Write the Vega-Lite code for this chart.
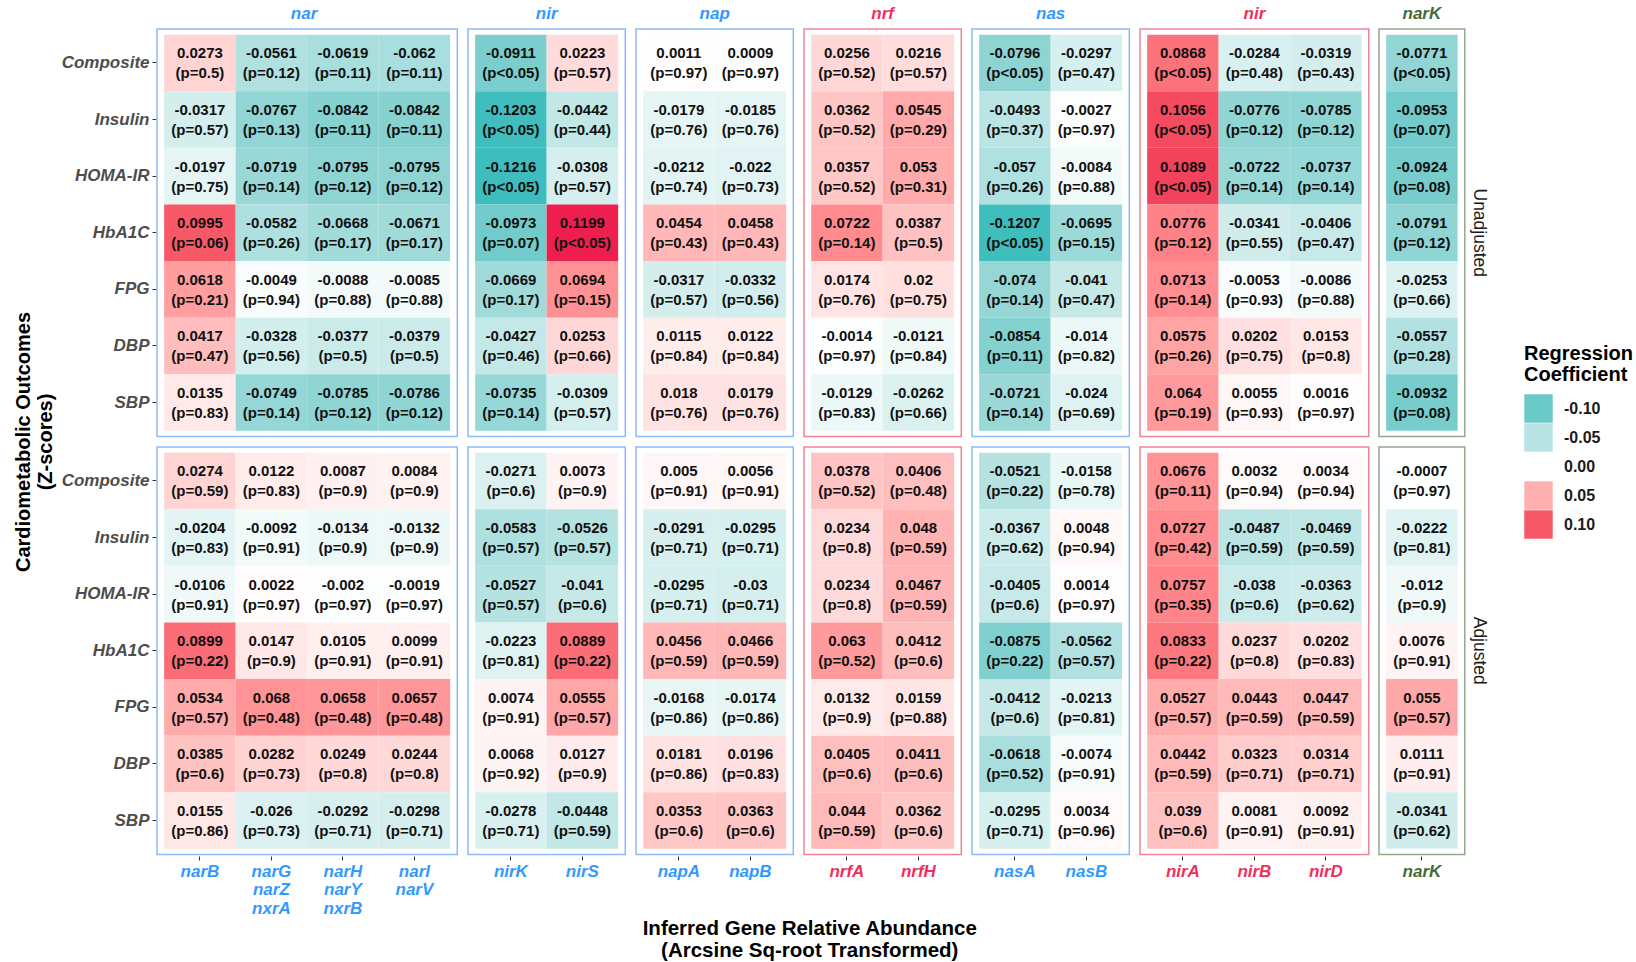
{
"$schema": "https://vega.github.io/schema/vega-lite/v6.json",
"padding": {"left": 13, "top": 5, "right": 0, "bottom": 5},
"config": {"font": "Liberation Sans", "view": {"stroke": null}},
"data": {"values": [
{"k":"nar","g":"narB","a":"Unadjusted","o":"Composite","c":0.0273,"p":"(p=0.5)"},
{"k":"nar","g":"narB","a":"Unadjusted","o":"Insulin","c":-0.0317,"p":"(p=0.57)"},
{"k":"nar","g":"narB","a":"Unadjusted","o":"HOMA-IR","c":-0.0197,"p":"(p=0.75)"},
{"k":"nar","g":"narB","a":"Unadjusted","o":"HbA1C","c":0.0995,"p":"(p=0.06)"},
{"k":"nar","g":"narB","a":"Unadjusted","o":"FPG","c":0.0618,"p":"(p=0.21)"},
{"k":"nar","g":"narB","a":"Unadjusted","o":"DBP","c":0.0417,"p":"(p=0.47)"},
{"k":"nar","g":"narB","a":"Unadjusted","o":"SBP","c":0.0135,"p":"(p=0.83)"},
{"k":"nar","g":"narG narZ nxrA","a":"Unadjusted","o":"Composite","c":-0.0561,"p":"(p=0.12)"},
{"k":"nar","g":"narG narZ nxrA","a":"Unadjusted","o":"Insulin","c":-0.0767,"p":"(p=0.13)"},
{"k":"nar","g":"narG narZ nxrA","a":"Unadjusted","o":"HOMA-IR","c":-0.0719,"p":"(p=0.14)"},
{"k":"nar","g":"narG narZ nxrA","a":"Unadjusted","o":"HbA1C","c":-0.0582,"p":"(p=0.26)"},
{"k":"nar","g":"narG narZ nxrA","a":"Unadjusted","o":"FPG","c":-0.0049,"p":"(p=0.94)"},
{"k":"nar","g":"narG narZ nxrA","a":"Unadjusted","o":"DBP","c":-0.0328,"p":"(p=0.56)"},
{"k":"nar","g":"narG narZ nxrA","a":"Unadjusted","o":"SBP","c":-0.0749,"p":"(p=0.14)"},
{"k":"nar","g":"narH narY nxrB","a":"Unadjusted","o":"Composite","c":-0.0619,"p":"(p=0.11)"},
{"k":"nar","g":"narH narY nxrB","a":"Unadjusted","o":"Insulin","c":-0.0842,"p":"(p=0.11)"},
{"k":"nar","g":"narH narY nxrB","a":"Unadjusted","o":"HOMA-IR","c":-0.0795,"p":"(p=0.12)"},
{"k":"nar","g":"narH narY nxrB","a":"Unadjusted","o":"HbA1C","c":-0.0668,"p":"(p=0.17)"},
{"k":"nar","g":"narH narY nxrB","a":"Unadjusted","o":"FPG","c":-0.0088,"p":"(p=0.88)"},
{"k":"nar","g":"narH narY nxrB","a":"Unadjusted","o":"DBP","c":-0.0377,"p":"(p=0.5)"},
{"k":"nar","g":"narH narY nxrB","a":"Unadjusted","o":"SBP","c":-0.0785,"p":"(p=0.12)"},
{"k":"nar","g":"narI narV","a":"Unadjusted","o":"Composite","c":-0.062,"p":"(p=0.11)"},
{"k":"nar","g":"narI narV","a":"Unadjusted","o":"Insulin","c":-0.0842,"p":"(p=0.11)"},
{"k":"nar","g":"narI narV","a":"Unadjusted","o":"HOMA-IR","c":-0.0795,"p":"(p=0.12)"},
{"k":"nar","g":"narI narV","a":"Unadjusted","o":"HbA1C","c":-0.0671,"p":"(p=0.17)"},
{"k":"nar","g":"narI narV","a":"Unadjusted","o":"FPG","c":-0.0085,"p":"(p=0.88)"},
{"k":"nar","g":"narI narV","a":"Unadjusted","o":"DBP","c":-0.0379,"p":"(p=0.5)"},
{"k":"nar","g":"narI narV","a":"Unadjusted","o":"SBP","c":-0.0786,"p":"(p=0.12)"},
{"k":"nirB","g":"nirK","a":"Unadjusted","o":"Composite","c":-0.0911,"p":"(p<0.05)"},
{"k":"nirB","g":"nirK","a":"Unadjusted","o":"Insulin","c":-0.1203,"p":"(p<0.05)"},
{"k":"nirB","g":"nirK","a":"Unadjusted","o":"HOMA-IR","c":-0.1216,"p":"(p<0.05)"},
{"k":"nirB","g":"nirK","a":"Unadjusted","o":"HbA1C","c":-0.0973,"p":"(p=0.07)"},
{"k":"nirB","g":"nirK","a":"Unadjusted","o":"FPG","c":-0.0669,"p":"(p=0.17)"},
{"k":"nirB","g":"nirK","a":"Unadjusted","o":"DBP","c":-0.0427,"p":"(p=0.46)"},
{"k":"nirB","g":"nirK","a":"Unadjusted","o":"SBP","c":-0.0735,"p":"(p=0.14)"},
{"k":"nirB","g":"nirS","a":"Unadjusted","o":"Composite","c":0.0223,"p":"(p=0.57)"},
{"k":"nirB","g":"nirS","a":"Unadjusted","o":"Insulin","c":-0.0442,"p":"(p=0.44)"},
{"k":"nirB","g":"nirS","a":"Unadjusted","o":"HOMA-IR","c":-0.0308,"p":"(p=0.57)"},
{"k":"nirB","g":"nirS","a":"Unadjusted","o":"HbA1C","c":0.1199,"p":"(p<0.05)"},
{"k":"nirB","g":"nirS","a":"Unadjusted","o":"FPG","c":0.0694,"p":"(p=0.15)"},
{"k":"nirB","g":"nirS","a":"Unadjusted","o":"DBP","c":0.0253,"p":"(p=0.66)"},
{"k":"nirB","g":"nirS","a":"Unadjusted","o":"SBP","c":-0.0309,"p":"(p=0.57)"},
{"k":"nap","g":"napA","a":"Unadjusted","o":"Composite","c":0.0011,"p":"(p=0.97)"},
{"k":"nap","g":"napA","a":"Unadjusted","o":"Insulin","c":-0.0179,"p":"(p=0.76)"},
{"k":"nap","g":"napA","a":"Unadjusted","o":"HOMA-IR","c":-0.0212,"p":"(p=0.74)"},
{"k":"nap","g":"napA","a":"Unadjusted","o":"HbA1C","c":0.0454,"p":"(p=0.43)"},
{"k":"nap","g":"napA","a":"Unadjusted","o":"FPG","c":-0.0317,"p":"(p=0.57)"},
{"k":"nap","g":"napA","a":"Unadjusted","o":"DBP","c":0.0115,"p":"(p=0.84)"},
{"k":"nap","g":"napA","a":"Unadjusted","o":"SBP","c":0.018,"p":"(p=0.76)"},
{"k":"nap","g":"napB","a":"Unadjusted","o":"Composite","c":0.0009,"p":"(p=0.97)"},
{"k":"nap","g":"napB","a":"Unadjusted","o":"Insulin","c":-0.0185,"p":"(p=0.76)"},
{"k":"nap","g":"napB","a":"Unadjusted","o":"HOMA-IR","c":-0.022,"p":"(p=0.73)"},
{"k":"nap","g":"napB","a":"Unadjusted","o":"HbA1C","c":0.0458,"p":"(p=0.43)"},
{"k":"nap","g":"napB","a":"Unadjusted","o":"FPG","c":-0.0332,"p":"(p=0.56)"},
{"k":"nap","g":"napB","a":"Unadjusted","o":"DBP","c":0.0122,"p":"(p=0.84)"},
{"k":"nap","g":"napB","a":"Unadjusted","o":"SBP","c":0.0179,"p":"(p=0.76)"},
{"k":"nrf","g":"nrfA","a":"Unadjusted","o":"Composite","c":0.0256,"p":"(p=0.52)"},
{"k":"nrf","g":"nrfA","a":"Unadjusted","o":"Insulin","c":0.0362,"p":"(p=0.52)"},
{"k":"nrf","g":"nrfA","a":"Unadjusted","o":"HOMA-IR","c":0.0357,"p":"(p=0.52)"},
{"k":"nrf","g":"nrfA","a":"Unadjusted","o":"HbA1C","c":0.0722,"p":"(p=0.14)"},
{"k":"nrf","g":"nrfA","a":"Unadjusted","o":"FPG","c":0.0174,"p":"(p=0.76)"},
{"k":"nrf","g":"nrfA","a":"Unadjusted","o":"DBP","c":-0.0014,"p":"(p=0.97)"},
{"k":"nrf","g":"nrfA","a":"Unadjusted","o":"SBP","c":-0.0129,"p":"(p=0.83)"},
{"k":"nrf","g":"nrfH","a":"Unadjusted","o":"Composite","c":0.0216,"p":"(p=0.57)"},
{"k":"nrf","g":"nrfH","a":"Unadjusted","o":"Insulin","c":0.0545,"p":"(p=0.29)"},
{"k":"nrf","g":"nrfH","a":"Unadjusted","o":"HOMA-IR","c":0.053,"p":"(p=0.31)"},
{"k":"nrf","g":"nrfH","a":"Unadjusted","o":"HbA1C","c":0.0387,"p":"(p=0.5)"},
{"k":"nrf","g":"nrfH","a":"Unadjusted","o":"FPG","c":0.02,"p":"(p=0.75)"},
{"k":"nrf","g":"nrfH","a":"Unadjusted","o":"DBP","c":-0.0121,"p":"(p=0.84)"},
{"k":"nrf","g":"nrfH","a":"Unadjusted","o":"SBP","c":-0.0262,"p":"(p=0.66)"},
{"k":"nas","g":"nasA","a":"Unadjusted","o":"Composite","c":-0.0796,"p":"(p<0.05)"},
{"k":"nas","g":"nasA","a":"Unadjusted","o":"Insulin","c":-0.0493,"p":"(p=0.37)"},
{"k":"nas","g":"nasA","a":"Unadjusted","o":"HOMA-IR","c":-0.057,"p":"(p=0.26)"},
{"k":"nas","g":"nasA","a":"Unadjusted","o":"HbA1C","c":-0.1207,"p":"(p<0.05)"},
{"k":"nas","g":"nasA","a":"Unadjusted","o":"FPG","c":-0.074,"p":"(p=0.14)"},
{"k":"nas","g":"nasA","a":"Unadjusted","o":"DBP","c":-0.0854,"p":"(p=0.11)"},
{"k":"nas","g":"nasA","a":"Unadjusted","o":"SBP","c":-0.0721,"p":"(p=0.14)"},
{"k":"nas","g":"nasB","a":"Unadjusted","o":"Composite","c":-0.0297,"p":"(p=0.47)"},
{"k":"nas","g":"nasB","a":"Unadjusted","o":"Insulin","c":-0.0027,"p":"(p=0.97)"},
{"k":"nas","g":"nasB","a":"Unadjusted","o":"HOMA-IR","c":-0.0084,"p":"(p=0.88)"},
{"k":"nas","g":"nasB","a":"Unadjusted","o":"HbA1C","c":-0.0695,"p":"(p=0.15)"},
{"k":"nas","g":"nasB","a":"Unadjusted","o":"FPG","c":-0.041,"p":"(p=0.47)"},
{"k":"nas","g":"nasB","a":"Unadjusted","o":"DBP","c":-0.014,"p":"(p=0.82)"},
{"k":"nas","g":"nasB","a":"Unadjusted","o":"SBP","c":-0.024,"p":"(p=0.69)"},
{"k":"nirR","g":"nirA","a":"Unadjusted","o":"Composite","c":0.0868,"p":"(p<0.05)"},
{"k":"nirR","g":"nirA","a":"Unadjusted","o":"Insulin","c":0.1056,"p":"(p<0.05)"},
{"k":"nirR","g":"nirA","a":"Unadjusted","o":"HOMA-IR","c":0.1089,"p":"(p<0.05)"},
{"k":"nirR","g":"nirA","a":"Unadjusted","o":"HbA1C","c":0.0776,"p":"(p=0.12)"},
{"k":"nirR","g":"nirA","a":"Unadjusted","o":"FPG","c":0.0713,"p":"(p=0.14)"},
{"k":"nirR","g":"nirA","a":"Unadjusted","o":"DBP","c":0.0575,"p":"(p=0.26)"},
{"k":"nirR","g":"nirA","a":"Unadjusted","o":"SBP","c":0.064,"p":"(p=0.19)"},
{"k":"nirR","g":"nirB","a":"Unadjusted","o":"Composite","c":-0.0284,"p":"(p=0.48)"},
{"k":"nirR","g":"nirB","a":"Unadjusted","o":"Insulin","c":-0.0776,"p":"(p=0.12)"},
{"k":"nirR","g":"nirB","a":"Unadjusted","o":"HOMA-IR","c":-0.0722,"p":"(p=0.14)"},
{"k":"nirR","g":"nirB","a":"Unadjusted","o":"HbA1C","c":-0.0341,"p":"(p=0.55)"},
{"k":"nirR","g":"nirB","a":"Unadjusted","o":"FPG","c":-0.0053,"p":"(p=0.93)"},
{"k":"nirR","g":"nirB","a":"Unadjusted","o":"DBP","c":0.0202,"p":"(p=0.75)"},
{"k":"nirR","g":"nirB","a":"Unadjusted","o":"SBP","c":0.0055,"p":"(p=0.93)"},
{"k":"nirR","g":"nirD","a":"Unadjusted","o":"Composite","c":-0.0319,"p":"(p=0.43)"},
{"k":"nirR","g":"nirD","a":"Unadjusted","o":"Insulin","c":-0.0785,"p":"(p=0.12)"},
{"k":"nirR","g":"nirD","a":"Unadjusted","o":"HOMA-IR","c":-0.0737,"p":"(p=0.14)"},
{"k":"nirR","g":"nirD","a":"Unadjusted","o":"HbA1C","c":-0.0406,"p":"(p=0.47)"},
{"k":"nirR","g":"nirD","a":"Unadjusted","o":"FPG","c":-0.0086,"p":"(p=0.88)"},
{"k":"nirR","g":"nirD","a":"Unadjusted","o":"DBP","c":0.0153,"p":"(p=0.8)"},
{"k":"nirR","g":"nirD","a":"Unadjusted","o":"SBP","c":0.0016,"p":"(p=0.97)"},
{"k":"narK","g":"narK","a":"Unadjusted","o":"Composite","c":-0.0771,"p":"(p<0.05)"},
{"k":"narK","g":"narK","a":"Unadjusted","o":"Insulin","c":-0.0953,"p":"(p=0.07)"},
{"k":"narK","g":"narK","a":"Unadjusted","o":"HOMA-IR","c":-0.0924,"p":"(p=0.08)"},
{"k":"narK","g":"narK","a":"Unadjusted","o":"HbA1C","c":-0.0791,"p":"(p=0.12)"},
{"k":"narK","g":"narK","a":"Unadjusted","o":"FPG","c":-0.0253,"p":"(p=0.66)"},
{"k":"narK","g":"narK","a":"Unadjusted","o":"DBP","c":-0.0557,"p":"(p=0.28)"},
{"k":"narK","g":"narK","a":"Unadjusted","o":"SBP","c":-0.0932,"p":"(p=0.08)"},
{"k":"nar","g":"narB","a":"Adjusted","o":"Composite","c":0.0274,"p":"(p=0.59)"},
{"k":"nar","g":"narB","a":"Adjusted","o":"Insulin","c":-0.0204,"p":"(p=0.83)"},
{"k":"nar","g":"narB","a":"Adjusted","o":"HOMA-IR","c":-0.0106,"p":"(p=0.91)"},
{"k":"nar","g":"narB","a":"Adjusted","o":"HbA1C","c":0.0899,"p":"(p=0.22)"},
{"k":"nar","g":"narB","a":"Adjusted","o":"FPG","c":0.0534,"p":"(p=0.57)"},
{"k":"nar","g":"narB","a":"Adjusted","o":"DBP","c":0.0385,"p":"(p=0.6)"},
{"k":"nar","g":"narB","a":"Adjusted","o":"SBP","c":0.0155,"p":"(p=0.86)"},
{"k":"nar","g":"narG narZ nxrA","a":"Adjusted","o":"Composite","c":0.0122,"p":"(p=0.83)"},
{"k":"nar","g":"narG narZ nxrA","a":"Adjusted","o":"Insulin","c":-0.0092,"p":"(p=0.91)"},
{"k":"nar","g":"narG narZ nxrA","a":"Adjusted","o":"HOMA-IR","c":0.0022,"p":"(p=0.97)"},
{"k":"nar","g":"narG narZ nxrA","a":"Adjusted","o":"HbA1C","c":0.0147,"p":"(p=0.9)"},
{"k":"nar","g":"narG narZ nxrA","a":"Adjusted","o":"FPG","c":0.068,"p":"(p=0.48)"},
{"k":"nar","g":"narG narZ nxrA","a":"Adjusted","o":"DBP","c":0.0282,"p":"(p=0.73)"},
{"k":"nar","g":"narG narZ nxrA","a":"Adjusted","o":"SBP","c":-0.026,"p":"(p=0.73)"},
{"k":"nar","g":"narH narY nxrB","a":"Adjusted","o":"Composite","c":0.0087,"p":"(p=0.9)"},
{"k":"nar","g":"narH narY nxrB","a":"Adjusted","o":"Insulin","c":-0.0134,"p":"(p=0.9)"},
{"k":"nar","g":"narH narY nxrB","a":"Adjusted","o":"HOMA-IR","c":-0.002,"p":"(p=0.97)"},
{"k":"nar","g":"narH narY nxrB","a":"Adjusted","o":"HbA1C","c":0.0105,"p":"(p=0.91)"},
{"k":"nar","g":"narH narY nxrB","a":"Adjusted","o":"FPG","c":0.0658,"p":"(p=0.48)"},
{"k":"nar","g":"narH narY nxrB","a":"Adjusted","o":"DBP","c":0.0249,"p":"(p=0.8)"},
{"k":"nar","g":"narH narY nxrB","a":"Adjusted","o":"SBP","c":-0.0292,"p":"(p=0.71)"},
{"k":"nar","g":"narI narV","a":"Adjusted","o":"Composite","c":0.0084,"p":"(p=0.9)"},
{"k":"nar","g":"narI narV","a":"Adjusted","o":"Insulin","c":-0.0132,"p":"(p=0.9)"},
{"k":"nar","g":"narI narV","a":"Adjusted","o":"HOMA-IR","c":-0.0019,"p":"(p=0.97)"},
{"k":"nar","g":"narI narV","a":"Adjusted","o":"HbA1C","c":0.0099,"p":"(p=0.91)"},
{"k":"nar","g":"narI narV","a":"Adjusted","o":"FPG","c":0.0657,"p":"(p=0.48)"},
{"k":"nar","g":"narI narV","a":"Adjusted","o":"DBP","c":0.0244,"p":"(p=0.8)"},
{"k":"nar","g":"narI narV","a":"Adjusted","o":"SBP","c":-0.0298,"p":"(p=0.71)"},
{"k":"nirB","g":"nirK","a":"Adjusted","o":"Composite","c":-0.0271,"p":"(p=0.6)"},
{"k":"nirB","g":"nirK","a":"Adjusted","o":"Insulin","c":-0.0583,"p":"(p=0.57)"},
{"k":"nirB","g":"nirK","a":"Adjusted","o":"HOMA-IR","c":-0.0527,"p":"(p=0.57)"},
{"k":"nirB","g":"nirK","a":"Adjusted","o":"HbA1C","c":-0.0223,"p":"(p=0.81)"},
{"k":"nirB","g":"nirK","a":"Adjusted","o":"FPG","c":0.0074,"p":"(p=0.91)"},
{"k":"nirB","g":"nirK","a":"Adjusted","o":"DBP","c":0.0068,"p":"(p=0.92)"},
{"k":"nirB","g":"nirK","a":"Adjusted","o":"SBP","c":-0.0278,"p":"(p=0.71)"},
{"k":"nirB","g":"nirS","a":"Adjusted","o":"Composite","c":0.0073,"p":"(p=0.9)"},
{"k":"nirB","g":"nirS","a":"Adjusted","o":"Insulin","c":-0.0526,"p":"(p=0.57)"},
{"k":"nirB","g":"nirS","a":"Adjusted","o":"HOMA-IR","c":-0.041,"p":"(p=0.6)"},
{"k":"nirB","g":"nirS","a":"Adjusted","o":"HbA1C","c":0.0889,"p":"(p=0.22)"},
{"k":"nirB","g":"nirS","a":"Adjusted","o":"FPG","c":0.0555,"p":"(p=0.57)"},
{"k":"nirB","g":"nirS","a":"Adjusted","o":"DBP","c":0.0127,"p":"(p=0.9)"},
{"k":"nirB","g":"nirS","a":"Adjusted","o":"SBP","c":-0.0448,"p":"(p=0.59)"},
{"k":"nap","g":"napA","a":"Adjusted","o":"Composite","c":0.005,"p":"(p=0.91)"},
{"k":"nap","g":"napA","a":"Adjusted","o":"Insulin","c":-0.0291,"p":"(p=0.71)"},
{"k":"nap","g":"napA","a":"Adjusted","o":"HOMA-IR","c":-0.0295,"p":"(p=0.71)"},
{"k":"nap","g":"napA","a":"Adjusted","o":"HbA1C","c":0.0456,"p":"(p=0.59)"},
{"k":"nap","g":"napA","a":"Adjusted","o":"FPG","c":-0.0168,"p":"(p=0.86)"},
{"k":"nap","g":"napA","a":"Adjusted","o":"DBP","c":0.0181,"p":"(p=0.86)"},
{"k":"nap","g":"napA","a":"Adjusted","o":"SBP","c":0.0353,"p":"(p=0.6)"},
{"k":"nap","g":"napB","a":"Adjusted","o":"Composite","c":0.0056,"p":"(p=0.91)"},
{"k":"nap","g":"napB","a":"Adjusted","o":"Insulin","c":-0.0295,"p":"(p=0.71)"},
{"k":"nap","g":"napB","a":"Adjusted","o":"HOMA-IR","c":-0.03,"p":"(p=0.71)"},
{"k":"nap","g":"napB","a":"Adjusted","o":"HbA1C","c":0.0466,"p":"(p=0.59)"},
{"k":"nap","g":"napB","a":"Adjusted","o":"FPG","c":-0.0174,"p":"(p=0.86)"},
{"k":"nap","g":"napB","a":"Adjusted","o":"DBP","c":0.0196,"p":"(p=0.83)"},
{"k":"nap","g":"napB","a":"Adjusted","o":"SBP","c":0.0363,"p":"(p=0.6)"},
{"k":"nrf","g":"nrfA","a":"Adjusted","o":"Composite","c":0.0378,"p":"(p=0.52)"},
{"k":"nrf","g":"nrfA","a":"Adjusted","o":"Insulin","c":0.0234,"p":"(p=0.8)"},
{"k":"nrf","g":"nrfA","a":"Adjusted","o":"HOMA-IR","c":0.0234,"p":"(p=0.8)"},
{"k":"nrf","g":"nrfA","a":"Adjusted","o":"HbA1C","c":0.063,"p":"(p=0.52)"},
{"k":"nrf","g":"nrfA","a":"Adjusted","o":"FPG","c":0.0132,"p":"(p=0.9)"},
{"k":"nrf","g":"nrfA","a":"Adjusted","o":"DBP","c":0.0405,"p":"(p=0.6)"},
{"k":"nrf","g":"nrfA","a":"Adjusted","o":"SBP","c":0.044,"p":"(p=0.59)"},
{"k":"nrf","g":"nrfH","a":"Adjusted","o":"Composite","c":0.0406,"p":"(p=0.48)"},
{"k":"nrf","g":"nrfH","a":"Adjusted","o":"Insulin","c":0.048,"p":"(p=0.59)"},
{"k":"nrf","g":"nrfH","a":"Adjusted","o":"HOMA-IR","c":0.0467,"p":"(p=0.59)"},
{"k":"nrf","g":"nrfH","a":"Adjusted","o":"HbA1C","c":0.0412,"p":"(p=0.6)"},
{"k":"nrf","g":"nrfH","a":"Adjusted","o":"FPG","c":0.0159,"p":"(p=0.88)"},
{"k":"nrf","g":"nrfH","a":"Adjusted","o":"DBP","c":0.0411,"p":"(p=0.6)"},
{"k":"nrf","g":"nrfH","a":"Adjusted","o":"SBP","c":0.0362,"p":"(p=0.6)"},
{"k":"nas","g":"nasA","a":"Adjusted","o":"Composite","c":-0.0521,"p":"(p=0.22)"},
{"k":"nas","g":"nasA","a":"Adjusted","o":"Insulin","c":-0.0367,"p":"(p=0.62)"},
{"k":"nas","g":"nasA","a":"Adjusted","o":"HOMA-IR","c":-0.0405,"p":"(p=0.6)"},
{"k":"nas","g":"nasA","a":"Adjusted","o":"HbA1C","c":-0.0875,"p":"(p=0.22)"},
{"k":"nas","g":"nasA","a":"Adjusted","o":"FPG","c":-0.0412,"p":"(p=0.6)"},
{"k":"nas","g":"nasA","a":"Adjusted","o":"DBP","c":-0.0618,"p":"(p=0.52)"},
{"k":"nas","g":"nasA","a":"Adjusted","o":"SBP","c":-0.0295,"p":"(p=0.71)"},
{"k":"nas","g":"nasB","a":"Adjusted","o":"Composite","c":-0.0158,"p":"(p=0.78)"},
{"k":"nas","g":"nasB","a":"Adjusted","o":"Insulin","c":0.0048,"p":"(p=0.94)"},
{"k":"nas","g":"nasB","a":"Adjusted","o":"HOMA-IR","c":0.0014,"p":"(p=0.97)"},
{"k":"nas","g":"nasB","a":"Adjusted","o":"HbA1C","c":-0.0562,"p":"(p=0.57)"},
{"k":"nas","g":"nasB","a":"Adjusted","o":"FPG","c":-0.0213,"p":"(p=0.81)"},
{"k":"nas","g":"nasB","a":"Adjusted","o":"DBP","c":-0.0074,"p":"(p=0.91)"},
{"k":"nas","g":"nasB","a":"Adjusted","o":"SBP","c":0.0034,"p":"(p=0.96)"},
{"k":"nirR","g":"nirA","a":"Adjusted","o":"Composite","c":0.0676,"p":"(p=0.11)"},
{"k":"nirR","g":"nirA","a":"Adjusted","o":"Insulin","c":0.0727,"p":"(p=0.42)"},
{"k":"nirR","g":"nirA","a":"Adjusted","o":"HOMA-IR","c":0.0757,"p":"(p=0.35)"},
{"k":"nirR","g":"nirA","a":"Adjusted","o":"HbA1C","c":0.0833,"p":"(p=0.22)"},
{"k":"nirR","g":"nirA","a":"Adjusted","o":"FPG","c":0.0527,"p":"(p=0.57)"},
{"k":"nirR","g":"nirA","a":"Adjusted","o":"DBP","c":0.0442,"p":"(p=0.59)"},
{"k":"nirR","g":"nirA","a":"Adjusted","o":"SBP","c":0.039,"p":"(p=0.6)"},
{"k":"nirR","g":"nirB","a":"Adjusted","o":"Composite","c":0.0032,"p":"(p=0.94)"},
{"k":"nirR","g":"nirB","a":"Adjusted","o":"Insulin","c":-0.0487,"p":"(p=0.59)"},
{"k":"nirR","g":"nirB","a":"Adjusted","o":"HOMA-IR","c":-0.038,"p":"(p=0.6)"},
{"k":"nirR","g":"nirB","a":"Adjusted","o":"HbA1C","c":0.0237,"p":"(p=0.8)"},
{"k":"nirR","g":"nirB","a":"Adjusted","o":"FPG","c":0.0443,"p":"(p=0.59)"},
{"k":"nirR","g":"nirB","a":"Adjusted","o":"DBP","c":0.0323,"p":"(p=0.71)"},
{"k":"nirR","g":"nirB","a":"Adjusted","o":"SBP","c":0.0081,"p":"(p=0.91)"},
{"k":"nirR","g":"nirD","a":"Adjusted","o":"Composite","c":0.0034,"p":"(p=0.94)"},
{"k":"nirR","g":"nirD","a":"Adjusted","o":"Insulin","c":-0.0469,"p":"(p=0.59)"},
{"k":"nirR","g":"nirD","a":"Adjusted","o":"HOMA-IR","c":-0.0363,"p":"(p=0.62)"},
{"k":"nirR","g":"nirD","a":"Adjusted","o":"HbA1C","c":0.0202,"p":"(p=0.83)"},
{"k":"nirR","g":"nirD","a":"Adjusted","o":"FPG","c":0.0447,"p":"(p=0.59)"},
{"k":"nirR","g":"nirD","a":"Adjusted","o":"DBP","c":0.0314,"p":"(p=0.71)"},
{"k":"nirR","g":"nirD","a":"Adjusted","o":"SBP","c":0.0092,"p":"(p=0.91)"},
{"k":"narK","g":"narK","a":"Adjusted","o":"Composite","c":-0.0007,"p":"(p=0.97)"},
{"k":"narK","g":"narK","a":"Adjusted","o":"Insulin","c":-0.0222,"p":"(p=0.81)"},
{"k":"narK","g":"narK","a":"Adjusted","o":"HOMA-IR","c":-0.012,"p":"(p=0.9)"},
{"k":"narK","g":"narK","a":"Adjusted","o":"HbA1C","c":0.0076,"p":"(p=0.91)"},
{"k":"narK","g":"narK","a":"Adjusted","o":"FPG","c":0.055,"p":"(p=0.57)"},
{"k":"narK","g":"narK","a":"Adjusted","o":"DBP","c":0.0111,"p":"(p=0.91)"},
{"k":"narK","g":"narK","a":"Adjusted","o":"SBP","c":-0.0341,"p":"(p=0.62)"}
]},
"hconcat": [
{"title": {"text": ["Inferred Gene Relative Abundance", "(Arcsine Sq-root Transformed)"], "orient": "bottom", "anchor": "middle", "fontSize": 20.5, "fontWeight": "bold", "color": "#000000", "offset": 3, "lineHeight": 22, "dx": 59},
 "spacing": 8,
 "hconcat": [
{"transform": [{"filter": "datum.k == 'nar'"}],
 "title": {"text": "nar", "color": "#3399FF", "fontSize": 17, "fontStyle": "italic", "fontWeight": "bold", "offset": 5, "anchor": "middle", "dx": 68},
 "facet": {"row": {"field": "a", "type": "nominal", "sort": ["Unadjusted", "Adjusted"], "title": ["Cardiometabolic Outcomes", "(Z-scores)"], "header": {"labels": false, "titleFontSize": 20, "titleFontWeight": "bold", "titleColor": "#000000", "titleLineHeight": 22, "titlePadding": -5}}},
 "spacing": 8,
 "spec": {"width": {"step": 71.5}, "height": {"step": 56.6}, "view": {"stroke": "#8DBBF5", "strokeWidth": 1.5},
  "encoding": {
   "x": {"field": "g", "type": "nominal", "sort": null, "scale": {"paddingInner": 0, "paddingOuter": 0.1}, "axis": {"title": null, "domain": false, "tickColor": "#333333", "tickSize": 4, "labelAngle": 0, "labelFontSize": 17, "labelFontStyle": "italic", "labelFontWeight": "bold", "labelColor": "#3399FF", "labelPadding": 3, "labelLineHeight": 18.5, "labelExpr": "split(datum.label, ' ')"}},
   "y": {"field": "o", "type": "nominal", "sort": ["Composite", "Insulin", "HOMA-IR", "HbA1C", "FPG", "DBP", "SBP"], "scale": {"paddingInner": 0, "paddingOuter": 0.1}, "axis": {"title": null, "domain": false, "tickColor": "#333333", "tickSize": 4, "labelFontSize": 17, "labelFontStyle": "italic", "labelFontWeight": "bold", "labelColor": "#4D4D4D", "labelPadding": 3}}
  },
  "layer": [
   {"mark": {"type": "rect"}, "encoding": {"color": {"field": "c", "type": "quantitative", "scale": {"domain": [-0.1216, 0, 0.1199], "range": ["#3DBDBD", "#FFFFFF", "#EE1F4E"], "interpolate": "lab"}, "legend": {"type": "symbol", "values": [-0.1, -0.05, 0, 0.05, 0.1], "format": ".2f", "labelExpr": "replace(datum.label, '\u2212', '-')", "title": ["Regression", "Coefficient"], "titleFontSize": 20, "titleFontWeight": "bold", "titleColor": "#000000", "titleLineHeight": 21, "titlePadding": 9, "labelFontSize": 16, "labelFontWeight": "bold", "labelColor": "#1A1A1A", "symbolType": "square", "symbolSize": 810, "symbolStrokeWidth": 0, "symbolOpacity": 1, "rowPadding": 0, "labelOffset": 11, "orient": "none", "legendX": 1367, "legendY": 315}}}},
   {"mark": {"type": "text", "dy": -9.5, "fontSize": 15, "fontWeight": "bold", "color": "#111111"}, "encoding": {"text": {"field": "c", "type": "nominal"}}},
   {"mark": {"type": "text", "dy": 10.5, "fontSize": 15, "fontWeight": "bold", "color": "#111111"}, "encoding": {"text": {"field": "p", "type": "nominal"}}}
  ]}
},
{"transform": [{"filter": "datum.k == 'nirB'"}],
 "title": {"text": "nir", "color": "#3399FF", "fontSize": 17, "fontStyle": "italic", "fontWeight": "bold", "offset": 5, "anchor": "middle"},
 "facet": {"row": {"field": "a", "type": "nominal", "sort": ["Unadjusted", "Adjusted"], "title": null, "header": {"labels": false}}},
 "spacing": 8,
 "spec": {"width": {"step": 71.5}, "height": {"step": 56.6}, "view": {"stroke": "#8DBBF5", "strokeWidth": 1.5},
  "encoding": {
   "x": {"field": "g", "type": "nominal", "sort": null, "scale": {"paddingInner": 0, "paddingOuter": 0.1}, "axis": {"title": null, "domain": false, "tickColor": "#333333", "tickSize": 4, "labelAngle": 0, "labelFontSize": 17, "labelFontStyle": "italic", "labelFontWeight": "bold", "labelColor": "#3399FF", "labelPadding": 3}},
   "y": {"field": "o", "type": "nominal", "sort": ["Composite", "Insulin", "HOMA-IR", "HbA1C", "FPG", "DBP", "SBP"], "scale": {"paddingInner": 0, "paddingOuter": 0.1}, "axis": null}
  },
  "layer": [
   {"mark": {"type": "rect"}, "encoding": {"color": {"field": "c", "type": "quantitative", "scale": {"domain": [-0.1216, 0, 0.1199], "range": ["#3DBDBD", "#FFFFFF", "#EE1F4E"], "interpolate": "lab"}}}},
   {"mark": {"type": "text", "dy": -9.5, "fontSize": 15, "fontWeight": "bold", "color": "#111111"}, "encoding": {"text": {"field": "c", "type": "nominal"}}},
   {"mark": {"type": "text", "dy": 10.5, "fontSize": 15, "fontWeight": "bold", "color": "#111111"}, "encoding": {"text": {"field": "p", "type": "nominal"}}}
  ]}
},
{"transform": [{"filter": "datum.k == 'nap'"}],
 "title": {"text": "nap", "color": "#3399FF", "fontSize": 17, "fontStyle": "italic", "fontWeight": "bold", "offset": 5, "anchor": "middle"},
 "facet": {"row": {"field": "a", "type": "nominal", "sort": ["Unadjusted", "Adjusted"], "title": null, "header": {"labels": false}}},
 "spacing": 8,
 "spec": {"width": {"step": 71.5}, "height": {"step": 56.6}, "view": {"stroke": "#8DBBF5", "strokeWidth": 1.5},
  "encoding": {
   "x": {"field": "g", "type": "nominal", "sort": null, "scale": {"paddingInner": 0, "paddingOuter": 0.1}, "axis": {"title": null, "domain": false, "tickColor": "#333333", "tickSize": 4, "labelAngle": 0, "labelFontSize": 17, "labelFontStyle": "italic", "labelFontWeight": "bold", "labelColor": "#3399FF", "labelPadding": 3}},
   "y": {"field": "o", "type": "nominal", "sort": ["Composite", "Insulin", "HOMA-IR", "HbA1C", "FPG", "DBP", "SBP"], "scale": {"paddingInner": 0, "paddingOuter": 0.1}, "axis": null}
  },
  "layer": [
   {"mark": {"type": "rect"}, "encoding": {"color": {"field": "c", "type": "quantitative", "scale": {"domain": [-0.1216, 0, 0.1199], "range": ["#3DBDBD", "#FFFFFF", "#EE1F4E"], "interpolate": "lab"}}}},
   {"mark": {"type": "text", "dy": -9.5, "fontSize": 15, "fontWeight": "bold", "color": "#111111"}, "encoding": {"text": {"field": "c", "type": "nominal"}}},
   {"mark": {"type": "text", "dy": 10.5, "fontSize": 15, "fontWeight": "bold", "color": "#111111"}, "encoding": {"text": {"field": "p", "type": "nominal"}}}
  ]}
},
{"transform": [{"filter": "datum.k == 'nrf'"}],
 "title": {"text": "nrf", "color": "#F0305A", "fontSize": 17, "fontStyle": "italic", "fontWeight": "bold", "offset": 5, "anchor": "middle"},
 "facet": {"row": {"field": "a", "type": "nominal", "sort": ["Unadjusted", "Adjusted"], "title": null, "header": {"labels": false}}},
 "spacing": 8,
 "spec": {"width": {"step": 71.5}, "height": {"step": 56.6}, "view": {"stroke": "#EE8497", "strokeWidth": 1.5},
  "encoding": {
   "x": {"field": "g", "type": "nominal", "sort": null, "scale": {"paddingInner": 0, "paddingOuter": 0.1}, "axis": {"title": null, "domain": false, "tickColor": "#333333", "tickSize": 4, "labelAngle": 0, "labelFontSize": 17, "labelFontStyle": "italic", "labelFontWeight": "bold", "labelColor": "#F0305A", "labelPadding": 3}},
   "y": {"field": "o", "type": "nominal", "sort": ["Composite", "Insulin", "HOMA-IR", "HbA1C", "FPG", "DBP", "SBP"], "scale": {"paddingInner": 0, "paddingOuter": 0.1}, "axis": null}
  },
  "layer": [
   {"mark": {"type": "rect"}, "encoding": {"color": {"field": "c", "type": "quantitative", "scale": {"domain": [-0.1216, 0, 0.1199], "range": ["#3DBDBD", "#FFFFFF", "#EE1F4E"], "interpolate": "lab"}}}},
   {"mark": {"type": "text", "dy": -9.5, "fontSize": 15, "fontWeight": "bold", "color": "#111111"}, "encoding": {"text": {"field": "c", "type": "nominal"}}},
   {"mark": {"type": "text", "dy": 10.5, "fontSize": 15, "fontWeight": "bold", "color": "#111111"}, "encoding": {"text": {"field": "p", "type": "nominal"}}}
  ]}
},
{"transform": [{"filter": "datum.k == 'nas'"}],
 "title": {"text": "nas", "color": "#3399FF", "fontSize": 17, "fontStyle": "italic", "fontWeight": "bold", "offset": 5, "anchor": "middle"},
 "facet": {"row": {"field": "a", "type": "nominal", "sort": ["Unadjusted", "Adjusted"], "title": null, "header": {"labels": false}}},
 "spacing": 8,
 "spec": {"width": {"step": 71.5}, "height": {"step": 56.6}, "view": {"stroke": "#8DBBF5", "strokeWidth": 1.5},
  "encoding": {
   "x": {"field": "g", "type": "nominal", "sort": null, "scale": {"paddingInner": 0, "paddingOuter": 0.1}, "axis": {"title": null, "domain": false, "tickColor": "#333333", "tickSize": 4, "labelAngle": 0, "labelFontSize": 17, "labelFontStyle": "italic", "labelFontWeight": "bold", "labelColor": "#3399FF", "labelPadding": 3}},
   "y": {"field": "o", "type": "nominal", "sort": ["Composite", "Insulin", "HOMA-IR", "HbA1C", "FPG", "DBP", "SBP"], "scale": {"paddingInner": 0, "paddingOuter": 0.1}, "axis": null}
  },
  "layer": [
   {"mark": {"type": "rect"}, "encoding": {"color": {"field": "c", "type": "quantitative", "scale": {"domain": [-0.1216, 0, 0.1199], "range": ["#3DBDBD", "#FFFFFF", "#EE1F4E"], "interpolate": "lab"}}}},
   {"mark": {"type": "text", "dy": -9.5, "fontSize": 15, "fontWeight": "bold", "color": "#111111"}, "encoding": {"text": {"field": "c", "type": "nominal"}}},
   {"mark": {"type": "text", "dy": 10.5, "fontSize": 15, "fontWeight": "bold", "color": "#111111"}, "encoding": {"text": {"field": "p", "type": "nominal"}}}
  ]}
},
{"transform": [{"filter": "datum.k == 'nirR'"}],
 "title": {"text": "nir", "color": "#F0305A", "fontSize": 17, "fontStyle": "italic", "fontWeight": "bold", "offset": 5, "anchor": "middle"},
 "facet": {"row": {"field": "a", "type": "nominal", "sort": ["Unadjusted", "Adjusted"], "title": null, "header": {"labels": false}}},
 "spacing": 8,
 "spec": {"width": {"step": 71.5}, "height": {"step": 56.6}, "view": {"stroke": "#EE8497", "strokeWidth": 1.5},
  "encoding": {
   "x": {"field": "g", "type": "nominal", "sort": null, "scale": {"paddingInner": 0, "paddingOuter": 0.1}, "axis": {"title": null, "domain": false, "tickColor": "#333333", "tickSize": 4, "labelAngle": 0, "labelFontSize": 17, "labelFontStyle": "italic", "labelFontWeight": "bold", "labelColor": "#F0305A", "labelPadding": 3}},
   "y": {"field": "o", "type": "nominal", "sort": ["Composite", "Insulin", "HOMA-IR", "HbA1C", "FPG", "DBP", "SBP"], "scale": {"paddingInner": 0, "paddingOuter": 0.1}, "axis": null}
  },
  "layer": [
   {"mark": {"type": "rect"}, "encoding": {"color": {"field": "c", "type": "quantitative", "scale": {"domain": [-0.1216, 0, 0.1199], "range": ["#3DBDBD", "#FFFFFF", "#EE1F4E"], "interpolate": "lab"}}}},
   {"mark": {"type": "text", "dy": -9.5, "fontSize": 15, "fontWeight": "bold", "color": "#111111"}, "encoding": {"text": {"field": "c", "type": "nominal"}}},
   {"mark": {"type": "text", "dy": 10.5, "fontSize": 15, "fontWeight": "bold", "color": "#111111"}, "encoding": {"text": {"field": "p", "type": "nominal"}}}
  ]}
},
{"transform": [{"filter": "datum.k == 'narK'"}],
 "title": {"text": "narK", "color": "#456B3A", "fontSize": 17, "fontStyle": "italic", "fontWeight": "bold", "offset": 5, "anchor": "middle", "dx": -11},
 "facet": {"row": {"field": "a", "type": "nominal", "sort": ["Unadjusted", "Adjusted"], "title": null, "header": {"labelOrient": "right", "labelAngle": 90, "labelFontSize": 17.5, "labelColor": "#1A1A1A", "labelPadding": 4}}},
 "spacing": 8,
 "spec": {"width": {"step": 71.5}, "height": {"step": 56.6}, "view": {"stroke": "#92A88D", "strokeWidth": 1.5},
  "encoding": {
   "x": {"field": "g", "type": "nominal", "sort": null, "scale": {"paddingInner": 0, "paddingOuter": 0.1}, "axis": {"title": null, "domain": false, "tickColor": "#333333", "tickSize": 4, "labelAngle": 0, "labelFontSize": 17, "labelFontStyle": "italic", "labelFontWeight": "bold", "labelColor": "#456B3A", "labelPadding": 3}},
   "y": {"field": "o", "type": "nominal", "sort": ["Composite", "Insulin", "HOMA-IR", "HbA1C", "FPG", "DBP", "SBP"], "scale": {"paddingInner": 0, "paddingOuter": 0.1}, "axis": null}
  },
  "layer": [
   {"mark": {"type": "rect"}, "encoding": {"color": {"field": "c", "type": "quantitative", "scale": {"domain": [-0.1216, 0, 0.1199], "range": ["#3DBDBD", "#FFFFFF", "#EE1F4E"], "interpolate": "lab"}}}},
   {"mark": {"type": "text", "dy": -9.5, "fontSize": 15, "fontWeight": "bold", "color": "#111111"}, "encoding": {"text": {"field": "c", "type": "nominal"}}},
   {"mark": {"type": "text", "dy": 10.5, "fontSize": 15, "fontWeight": "bold", "color": "#111111"}, "encoding": {"text": {"field": "p", "type": "nominal"}}}
  ]}
}
]}
]
}
